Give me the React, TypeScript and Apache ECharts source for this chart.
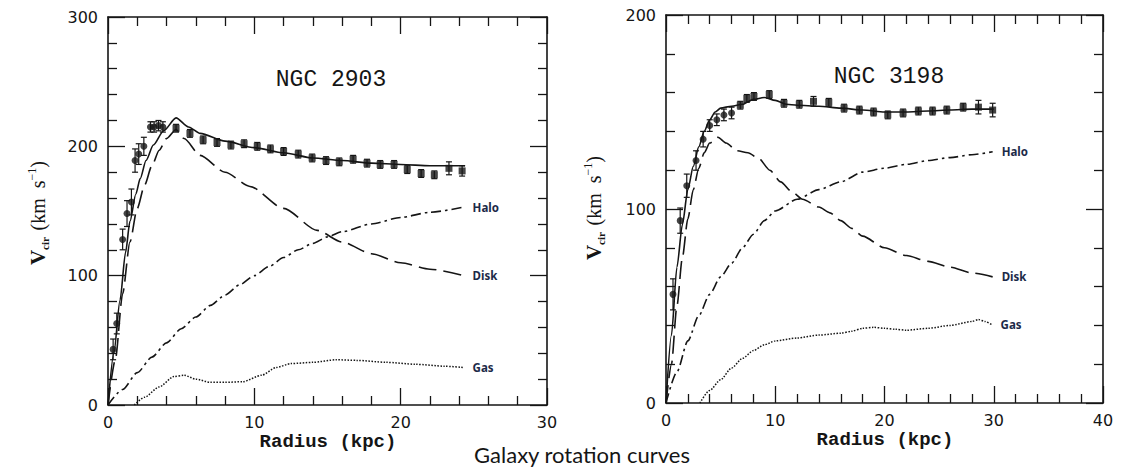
import React, { useEffect, useRef } from "react";
import * as echarts from "echarts";

// ---------- NGC 2903 (left panel) ----------
const n2903InR = [0.35, 0.6, 1.0, 1.3, 1.6, 1.85, 2.1, 2.45, 2.9, 3.15, 3.45, 3.75];
const n2903InV = [43, 63, 128, 148, 157, 189, 194, 200, 215, 215, 216, 215];
const n2903InE = [8, 8, 8, 10, 10, 9, 8, 7, 4, 4, 4, 4];

const n2903OutR = [4.65, 5.6, 6.5, 7.45, 8.4, 9.3, 10.2, 11.1, 12.0, 13.0, 13.95, 14.9, 15.8, 16.75, 17.7, 18.6, 19.55, 20.45, 21.4, 22.3, 23.3, 24.2];
const n2903OutV = [214, 210, 205, 203, 201, 202, 200, 198, 196, 194, 191, 189, 188, 190, 187, 186, 186, 182, 179, 178, 183, 181];
const n2903OutE = [3, 3, 3, 3, 3, 3, 3, 3, 3, 3, 3, 3, 3, 3, 3, 3, 3, 3, 3, 3, 5, 4];

const n2903TotalR = [0, 0.4, 0.82, 1.2, 1.5, 1.9, 2.2, 2.6, 3.1, 3.8, 4.65, 5.5, 6.3, 8.0, 10.0, 12.0, 14.0, 16.0, 18.0, 20.0, 22.0, 24.4];
const n2903TotalV = [0, 40, 81, 118, 142, 163, 175, 189, 201, 212, 222, 215, 210, 204, 199, 195, 191, 189, 187, 186, 185, 185];

const n2903DiskR = [0, 0.5, 1.0, 1.5, 2.0, 2.5, 3.0, 3.5, 4.0, 4.65, 5.2, 6.3, 8.0, 9.7, 12.0, 14.3, 16.0, 18.0, 20.0, 22.0, 24.3];
const n2903DiskV = [0, 35, 86, 126, 152, 170, 185, 197, 206, 213, 206, 193, 180, 169, 152, 135, 126, 117, 110, 105, 100];

const n2903HaloR = [0, 1, 2, 3, 4, 5, 6, 7, 8, 9, 10, 11, 12, 13, 14, 15, 16, 18, 20, 22, 24.3];
const n2903HaloV = [0, 12, 25, 37, 48, 59, 68, 77, 85, 93, 100, 107, 114, 120, 125, 130, 134, 140, 145, 149, 153];

const n2903GasR = [1.8, 2.5, 3.5, 4.5, 5.2, 6.0, 7.0, 8.0, 9.2, 10.5, 11.5, 12.5, 14.0, 15.6, 17.0, 19.0, 21.0, 23.0, 24.3];
const n2903GasV = [0, 6, 14, 22, 23, 20, 17.5, 17.5, 18, 23, 29, 32, 33, 35, 34.5, 33, 31.5, 30, 29];

// ---------- NGC 3198 (right panel) ----------
const n3198InR = [0.64, 1.3, 1.9, 2.75, 3.4, 4.0, 4.65, 5.3, 6.0];
const n3198InV = [56, 94, 112, 125, 136, 143, 146, 148.5, 149.5];
const n3198InE = [8, 6.5, 6, 5, 4, 3, 3, 3, 3];

const n3198OutR = [6.8, 7.4, 8.05, 9.45, 10.8, 12.2, 13.5, 14.9, 16.3, 17.7, 19.0, 20.3, 21.7, 23.1, 24.4, 25.7, 27.2, 28.6, 29.9];
const n3198OutV = [153.5, 157, 158, 159, 154.5, 154, 155.5, 155, 152, 151, 150, 148.5, 149.5, 150.5, 150.5, 151, 152.5, 152.5, 151];
const n3198OutE = [2, 2, 2, 2, 2, 2, 2.5, 2, 2, 2, 2, 2, 2, 2, 2, 2, 2, 3.5, 3.5];

const n3198TotalR = [0, 0.5, 1.0, 1.5, 2.0, 2.5, 3.0, 3.5, 4.0, 4.5, 5.0, 6.0, 7.0, 8.0, 9.0, 10.0, 11.0, 12.0, 14.0, 16.0, 18.0, 20.0, 22.0, 24.0, 26.0, 28.0, 30.0];
const n3198TotalV = [0, 35, 70, 92, 110, 122, 132, 140, 146, 150, 152, 153, 154, 156.5, 157.5, 156, 154, 153.5, 153, 152, 151, 150, 150, 150.5, 151, 151.5, 151.5];

const n3198DiskR = [0, 0.5, 1.0, 1.5, 2.0, 2.5, 3.0, 3.5, 4.0, 4.75, 5.5, 6.5, 7.5, 8.5, 9.5, 10.5, 11.5, 12.5, 14.0, 15.0, 16.0, 17.0, 18.0, 20.0, 22.0, 24.0, 26.0, 28.0, 29.9];
const n3198DiskV = [0, 20, 50, 75, 95, 110, 121, 129, 134, 137, 134, 130, 129, 126, 120, 114, 109, 105, 101, 98, 94, 90, 86, 80, 76, 73, 70, 67, 65];

const n3198HaloR = [0, 1, 2, 3, 4, 5, 6, 7, 8, 9, 10, 12, 14, 16, 18, 20, 22, 24, 26, 28, 29.9];
const n3198HaloV = [0, 16, 32, 45, 56, 65, 72, 80, 87, 94, 99, 105, 110, 114, 119, 121, 123, 125, 126.5, 128, 129.5];

const n3198GasR = [3.1, 4, 5, 6, 7, 8, 9, 10, 12, 14, 16, 17, 18, 19, 20, 21, 22, 24, 26, 28, 28.6, 29.2, 29.8];
const n3198GasV = [0, 6.5, 12, 18, 23, 27, 30, 32, 33.5, 35, 36, 37, 38.5, 39, 38.5, 38, 37.5, 38.5, 40, 42, 43, 42, 40.5];

// ---------- texts ----------
const panelTitles = ["NGC 2903", "NGC 3198"];
const componentNames = ["Halo", "Disk", "Gas"];
const xAxisTitle = "Radius (kpc)";
const caption = "Galaxy rotation curves";

const INK = "#151515";
const LABEL_INK = "#1c2a48";

const pairs = (r: number[], v: number[]) => r.map((x, i) => [x, v[i]]);
const triples = (r: number[], v: number[], e: number[]) => r.map((x, i) => [x, v[i], e[i]]);

export default function App() {
  const ref = useRef<HTMLDivElement>(null);

  useEffect(() => {
    if (!ref.current) return;
    const chart = echarts.init(ref.current, null, { renderer: "svg" });

    const tickFont = { fontFamily: "DejaVu Sans", fontSize: 16, color: INK };

    const xAx = (grid: number, max: number, top: boolean) => ({
      type: "value",
      gridIndex: grid,
      min: 0,
      max,
      interval: 10,
      position: top ? "top" : "bottom",
      axisLine: { show: true, onZero: false, lineStyle: { color: INK, width: 1.6 } },
      axisTick: { show: true, inside: true, length: 17, lineStyle: { color: INK, width: 1.3 } },
      minorTick: { show: true, splitNumber: 5, length: 9, lineStyle: { color: INK, width: 1.3 } },
      axisLabel: top ? { show: false } : { show: true, margin: 9, ...tickFont },
      splitLine: { show: false },
      minorSplitLine: { show: false },
    });
    const yAx = (grid: number, max: number, right: boolean) => ({
      type: "value",
      gridIndex: grid,
      min: 0,
      max,
      interval: 100,
      position: right ? "right" : "left",
      axisLine: { show: true, onZero: false, lineStyle: { color: INK, width: 1.6 } },
      axisTick: { show: true, inside: true, length: 17, lineStyle: { color: INK, width: 1.3 } },
      minorTick: { show: true, splitNumber: 5, length: 9, lineStyle: { color: INK, width: 1.3 } },
      axisLabel: right ? { show: false } : { show: true, margin: 10, ...tickFont },
      splitLine: { show: false },
      minorSplitLine: { show: false },
    });

    const endLbl = (text: string) => ({
      show: true,
      formatter: text,
      distance: 9,
      fontFamily: "Noto Sans",
      fontWeight: "bold",
      fontSize: 11.5,
      color: LABEL_INK,
    });

    const line = (
      xi: number,
      data: number[][],
      type: any,
      width: number,
      label?: string
    ) => ({
      type: "line",
      xAxisIndex: xi,
      yAxisIndex: xi,
      data,
      showSymbol: false,
      symbol: "none",
      smooth: 0.25,
      smoothMonotone: "x",
      lineStyle: { color: INK, width, type },
      endLabel: label ? endLbl(label) : { show: false },
      silent: true,
      z: 3,
    });

    const errRender = (params: any, api: any) => {
      const x = api.value(0);
      const y = api.value(1);
      const e = api.value(2);
      const top = api.coord([x, y + e]);
      const bot = api.coord([x, y - e]);
      const w = 3;
      const st = { stroke: INK, lineWidth: 1.2 };
      return {
        type: "group",
        children: [
          { type: "line", shape: { x1: top[0], y1: top[1], x2: bot[0], y2: bot[1] }, style: st },
          { type: "line", shape: { x1: top[0] - w, y1: top[1], x2: top[0] + w, y2: top[1] }, style: st },
          { type: "line", shape: { x1: bot[0] - w, y1: bot[1], x2: bot[0] + w, y2: bot[1] }, style: st },
        ],
      };
    };
    const errSeries = (xi: number, data: number[][]) => ({
      type: "custom",
      xAxisIndex: xi,
      yAxisIndex: xi,
      renderItem: errRender,
      encode: { x: 0, y: 1 },
      data,
      silent: true,
      z: 4,
    });
    const pts = (xi: number, data: number[][], symbol: string, size: number) => ({
      type: "scatter",
      xAxisIndex: xi,
      yAxisIndex: xi,
      data,
      symbol,
      symbolSize: size,
      itemStyle: { color: INK },
      silent: true,
      z: 5,
    });

    const yName = (x: number, y: number) => ({
      type: "text",
      x,
      y,
      rotation: Math.PI / 2,
      style: {
        text: "{v|V}{s|cir}  {n|(km  s}{p|−1}{n|)}",
        align: "center",
        verticalAlign: "middle",
        fill: INK,
        rich: {
          v: { fontFamily: "Liberation Serif", fontSize: 21, fontWeight: "bold", fill: INK, lineHeight: 24, verticalAlign: "middle" },
          s: { fontFamily: "Liberation Serif", fontSize: 11, fontWeight: "bold", fill: INK, lineHeight: 24, verticalAlign: "bottom" },
          n: { fontFamily: "Liberation Serif", fontSize: 20, fill: INK, lineHeight: 24, verticalAlign: "middle" },
          p: { fontFamily: "Liberation Serif", fontSize: 12, fill: INK, lineHeight: 24, verticalAlign: "top" },
        },
      },
    });
    const xName = (x: number, y: number) => ({
      type: "text",
      x,
      y,
      style: {
        text: xAxisTitle,
        align: "center",
        verticalAlign: "middle",
        fill: INK,
        font: "bold 19px 'Liberation Mono'",
      },
    });

    const titleStyle = { fontFamily: "Liberation Mono", fontSize: 23, fontWeight: "normal", color: INK };

    chart.setOption({
      animation: false,
      backgroundColor: "#ffffff",
      title: [
        { text: panelTitles[0], left: 326, top: 75, textAlign: "center", textVerticalAlign: "middle", textStyle: titleStyle },
        { text: panelTitles[1], left: 884, top: 72, textAlign: "center", textVerticalAlign: "middle", textStyle: titleStyle },
      ],
      grid: [
        { left: 108, top: 17, width: 439, height: 388, containLabel: false },
        { left: 666, top: 15, width: 437, height: 388, containLabel: false },
      ],
      xAxis: [xAx(0, 30, false), xAx(0, 30, true), xAx(1, 40, false), xAx(1, 40, true)],
      yAxis: [yAx(0, 300, false), yAx(0, 300, true), yAx(1, 200, false), yAx(1, 200, true)],
      series: [
        // left panel
        line(0, pairs(n2903TotalR, n2903TotalV), "solid", 1.6),
        line(0, pairs(n2903DiskR, n2903DiskV), [18, 7], 1.6, componentNames[1]),
        line(0, pairs(n2903HaloR, n2903HaloV), [10, 4, 2.5, 4], 1.6, componentNames[0]),
        line(0, pairs(n2903GasR, n2903GasV), [1.5, 1.5], 1.5, componentNames[2]),
        errSeries(0, triples(n2903InR, n2903InV, n2903InE)),
        errSeries(0, triples(n2903OutR, n2903OutV, n2903OutE)),
        pts(0, pairs(n2903InR, n2903InV), "circle", 7),
        pts(0, pairs(n2903OutR, n2903OutV), "rect", 7),
        // right panel
        line(2, pairs(n3198TotalR, n3198TotalV), "solid", 1.6),
        line(2, pairs(n3198DiskR, n3198DiskV), [18, 7], 1.6, componentNames[1]),
        line(2, pairs(n3198HaloR, n3198HaloV), [10, 4, 2.5, 4], 1.6, componentNames[0]),
        line(2, pairs(n3198GasR, n3198GasV), [1.5, 1.5], 1.5, componentNames[2]),
        errSeries(2, triples(n3198InR, n3198InV, n3198InE)),
        errSeries(2, triples(n3198OutR, n3198OutV, n3198OutE)),
        pts(2, pairs(n3198InR, n3198InV), "circle", 7),
        pts(2, pairs(n3198OutR, n3198OutV), "rect", 7),
      ],
      graphic: [
        yName(38, 213),
        yName(594, 208),
        xName(328, 442),
        xName(885, 440),
        {
          type: "text",
          x: 582,
          y: 454,
          style: {
            text: caption,
            align: "center",
            verticalAlign: "middle",
            fill: INK,
            font: "22px Lato",
          },
        },
      ],
    });

    return () => chart.dispose();
  }, []);

  return (
    <div
      ref={ref}
      style={{ position: "fixed", left: 0, top: 0, width: 1135, height: 468, background: "#fff" }}
    />
  );
}
